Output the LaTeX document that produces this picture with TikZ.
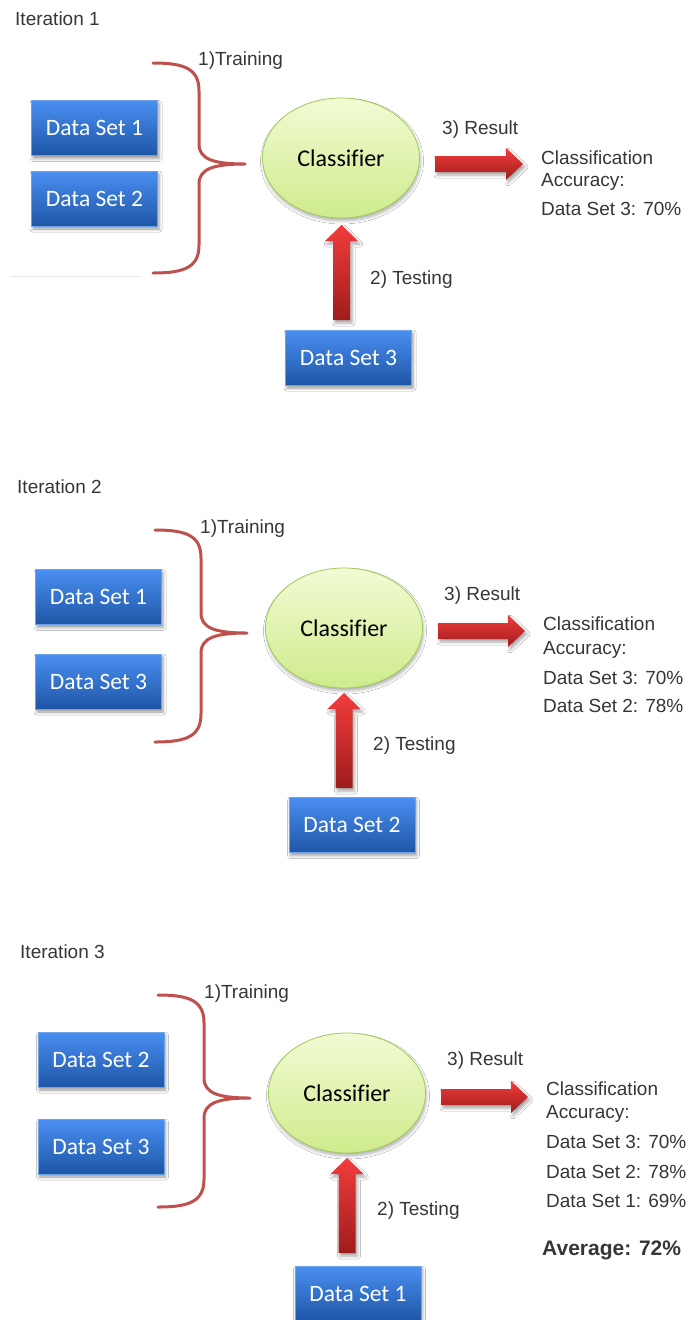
\documentclass[tikz,border=0pt]{standalone}
\usepackage{fontspec}
\setmainfont{Liberation Sans}
\newfontfamily\boxfont[Ligatures=NoCommon]{Carlito}
\usetikzlibrary{shapes.geometric,shadows.blur}

\definecolor{labeltext}{HTML}{363636}
\definecolor{boxtop}{HTML}{4A8FF2}
\definecolor{boxbottom}{HTML}{1E56A6}
\definecolor{boxedge}{HTML}{6FA3E8}
\definecolor{clftop}{HTML}{F2FBD4}
\definecolor{clfbottom}{HTML}{CFEB8C}
\definecolor{clfedge}{HTML}{A0CC5A}
\definecolor{arrowtop}{HTML}{F23C3C}
\definecolor{arrowbottom}{HTML}{A01C1C}
\definecolor{bracecol}{HTML}{C0504D}
\definecolor{rulecol}{HTML}{E8E8E8}

\tikzset{
  lbl/.style={anchor=base west, inner sep=0pt, text=labeltext,
    font=\fontsize{19}{22}\selectfont},
  avg/.style={lbl, font=\bfseries\fontsize{21}{24}\selectfont},
  databox/.style={rectangle, draw=boxedge, line width=0.8pt,
    top color=boxtop, bottom color=boxbottom,
    minimum width=126pt, minimum height=55pt, inner sep=0pt, text=white,
    font=\boxfont\fontsize{23.5}{26}\selectfont,
    blur shadow={shadow xshift=1.5pt, shadow yshift=-3pt,
      shadow blur radius=3pt, shadow opacity=40}},
  classifier/.style={ellipse, draw=clfedge, line width=0.8pt,
    top color=clftop, bottom color=clfbottom,
    minimum width=157pt, minimum height=120pt, inner sep=0pt, text=black,
    font=\boxfont\fontsize{24}{26}\selectfont,
    blur shadow={shadow xshift=1pt, shadow yshift=-3pt,
      shadow blur radius=3pt, shadow opacity=30}},
  redarrow/.style={top color=arrowtop, bottom color=arrowbottom,
    blur shadow={shadow xshift=2pt, shadow yshift=-3pt,
      shadow blur radius=3pt, shadow opacity=35}},
  trainbrace/.style={draw=bracecol, line width=3pt, line cap=round,
    line join=round},
}

% block arrow pointing right, between two named coordinates (start, tip)
\newcommand{\resultarrow}[2]{%
  \path[redarrow] let \p1=(#1), \p2=(#2) in
    (\x1,\y1+8pt) -- (\x2-17pt,\y1+8pt) -- (\x2-17pt,\y1+16pt) -- (\x2,\y1)
    -- (\x2-17pt,\y1-16pt) -- (\x2-17pt,\y1-8pt) -- (\x1,\y1-8pt) -- cycle;}

% block arrow pointing up, between two named coordinates (foot, tip)
\newcommand{\testarrow}[2]{%
  \path[redarrow] let \p1=(#1), \p2=(#2) in
    (\x1-8.5pt,\y1) -- (\x1-8.5pt,\y2-16pt) -- (\x1-16.5pt,\y2-16pt) -- (\x1,\y2)
    -- (\x1+16.5pt,\y2-16pt) -- (\x1+8.5pt,\y2-16pt) -- (\x1+8.5pt,\y1) -- cycle;}

% curly brace: end x, top y, stem x, tip x, tip y, bottom y
\newcommand{\setbrace}[6]{%
  \draw[trainbrace] (#1,#2) .. controls (#3-14,#2) and (#3,#2+6) .. (#3,#2+28)
    -- (#3,#5-20) .. controls (#3,#5-5) and (#3+14,#5) .. (#4,#5)
    .. controls (#3+14,#5) and (#3,#5+5) .. (#3,#5+20)
    -- (#3,#6-28) .. controls (#3,#6-6) and (#3-14,#6) .. (#1,#6);}

\begin{document}
\begin{tikzpicture}[x=1pt, y=-1pt]
\useasboundingbox (0,0) rectangle (686,1320);
\fill[white] (0,0) rectangle (686,1320);

% ---------- Iteration 1 ----------
\node[lbl] (it1) at (15,25) {Iteration 1};
\node[lbl] (tr1) at (198,65) {1)Training};
\draw[rulecol, line width=1pt] (10,276) -- (140,276);
\node[databox] (ds11) at (94.5,128) {Data Set 1};
\node[databox] (ds12) at (94.5,198.5) {Data Set 2};
\setbrace{153}{63}{199}{245}{164}{273}
\node[classifier] (clf1) at (341,158) {Classifier};
\node[lbl] (res1) at (442,134) {3) Result};
\coordinate (r1s) at (435,164);
\coordinate (r1e) at (523,164);
\resultarrow{r1s}{r1e}
\node[lbl] (acc1a) at (541,164) {Classification};
\node[lbl] (acc1b) at (541,186) {Accuracy:};
\node[lbl] (acc1c) at (541,215) {Data Set 3: 70\%};
\node[lbl] (te1) at (370,284) {2) Testing};
\node[databox] (ds13) at (348.5,357.5) {Data Set 3};
\coordinate (t1s) at (341.5,320);
\coordinate (t1e) at (341.5,225);
\testarrow{t1s}{t1e}

% ---------- Iteration 2 ----------
\node[lbl] (it2) at (17,493) {Iteration 2};
\node[lbl] (tr2) at (200,533) {1)Training};
\node[databox] (ds21) at (98.5,597) {Data Set 1};
\node[databox] (ds23) at (98.5,681.5) {Data Set 3};
\setbrace{155}{530}{201}{247}{633}{742}
\node[classifier] (clf2) at (344,628) {Classifier};
\node[lbl] (res2) at (444,600) {3) Result};
\coordinate (r2s) at (438,631);
\coordinate (r2e) at (525,631);
\resultarrow{r2s}{r2e}
\node[lbl] (acc2a) at (543,630) {Classification};
\node[lbl] (acc2b) at (543,654) {Accuracy:};
\node[lbl] (acc2c) at (543,684) {Data Set 3: 70\%};
\node[lbl] (acc2d) at (543,712) {Data Set 2: 78\%};
\node[lbl] (te2) at (373,750) {2) Testing};
\node[databox] (ds22) at (352,825) {Data Set 2};
\coordinate (t2s) at (344,788);
\coordinate (t2e) at (344,693);
\testarrow{t2s}{t2e}

% ---------- Iteration 3 ----------
\node[lbl] (it3) at (20,958) {Iteration 3};
\node[lbl] (tr3) at (204,998) {1)Training};
\node[databox] (ds32) at (101,1059.5) {Data Set 2};
\node[databox] (ds33) at (101,1146.5) {Data Set 3};
\setbrace{158}{995}{204}{250}{1098}{1207}
\node[classifier] (clf3) at (347,1093) {Classifier};
\node[lbl] (res3) at (447,1065) {3) Result};
\coordinate (r3s) at (441,1097);
\coordinate (r3e) at (528,1097);
\resultarrow{r3s}{r3e}
\node[lbl] (acc3a) at (546,1095) {Classification};
\node[lbl] (acc3b) at (546,1118) {Accuracy:};
\node[lbl] (acc3c) at (546,1148) {Data Set 3: 70\%};
\node[lbl] (acc3d) at (546,1178) {Data Set 2: 78\%};
\node[lbl] (acc3e) at (546,1207) {Data Set 1: 69\%};
\node[avg] (avg3) at (542,1255) {Average: 72\%};
\node[lbl] (te3) at (377,1215) {2) Testing};
\node[databox] (ds31) at (358,1293.5) {Data Set 1};
\coordinate (t3s) at (347,1253);
\coordinate (t3e) at (347,1158);
\testarrow{t3s}{t3e}
\end{tikzpicture}
\end{document}
